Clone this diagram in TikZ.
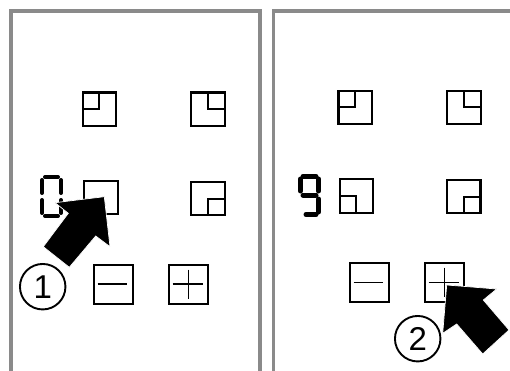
\documentclass[tikz,border=0pt]{standalone}
\usepackage{fontspec}
\setmainfont{Liberation Sans}
\usepackage{tikz}
\usetikzlibrary{calc,positioning}
\definecolor{FrameGray}{HTML}{8A8A8A}
\newcommand{\segdigit}[3]{%
  \begin{scope}[shift={#1}]
    \foreach \xa/\ya/\xb/\yb in {#3}
      \draw[seg,line width=#2] (\xa,\ya) -- (\xb,\yb);
  \end{scope}}
\begin{document}
\begin{tikzpicture}[
  x=1pt,y=-1pt,
  frameline/.style={draw=FrameGray, line width=3.6pt},
  iconbox/.style={draw, line width=2.2pt, minimum size=33.5pt, inner sep=0pt},
  cornerbox/.style={draw, line width=2.2pt, minimum size=16.5pt, inner sep=0pt},
  keybox/.style={draw, line width=2.6pt, minimum size=39pt, inner sep=0pt},
  sym/.style={line width=1.9pt},
  seg/.style={line cap=round},
  stepnum/.style={draw, circle, line width=1.9pt, minimum size=45.5pt, inner sep=0pt, font=\fontsize{33}{33}\selectfont},
  pointer/.style={fill=black, draw=white, line width=0.7pt}]
  \useasboundingbox (0,0) rectangle (510,371);

  % panels
  \draw[frameline] (11.2,371)--(11.2,11)--(260.2,11)--(260.2,371);
  \draw[frameline] (273.5,371)--(273.5,11)--(510,11);

  % left panel
  \node[iconbox] (L1) at (99.5,109.3) {};
  \node[iconbox] (L2) at (208,109.3) {};
  \node[iconbox] (L3) at (101,197.5) {};
  \node[iconbox] (L4) at (208,198.5) {};
  \node[cornerbox,anchor=north west] (L1c) at (L1.north west) {};
  \node[cornerbox,anchor=north east] (L2c) at (L2.north east) {};
  \node[cornerbox,anchor=south east] (L4c) at (L4.south east) {};
  \node[keybox] (Lm) at (113.5,284.3) {};
  \node[keybox] (Lp) at (188.5,284.3) {};
  \draw[sym] ([xshift=5pt]Lm.west) -- ([xshift=-7pt]Lm.east);
  \draw[sym] ([xshift=5pt]Lp.west) -- ([xshift=-6pt]Lp.east);
  \draw[sym] ([yshift=-6pt]Lp.north) -- ([yshift=6pt]Lp.south);
  \segdigit{(40,175)}{4pt}{5/2/18/2,2/5/2/18,21/5/21/18,2/25/2/38,21/25/21/38,5/41/18/41}
  \node[stepnum] (n1) at (42.7,286.7) {1};
  \fill[pointer] (104.3,196.7)--(55,202.7)--(68.3,213.3)--(43.3,246.7)--(69.3,267.3)--(95.7,236)--(110,246.7)--cycle;

  % right panel
  \node[iconbox] (R1) at (355.3,107.5) {};
  \node[iconbox] (R2) at (464,107.5) {};
  \node[iconbox] (R3) at (356.5,196) {};
  \node[iconbox] (R4) at (463.7,196.5) {};
  \node[cornerbox,anchor=north west] (R1c) at (R1.north west) {};
  \node[cornerbox,anchor=north east] (R2c) at (R2.north east) {};
  \node[cornerbox,anchor=south west] (R3c) at (R3.south west) {};
  \node[cornerbox,anchor=south east] (R4c) at (R4.south east) {};
  \node[keybox] (Rm) at (369.3,282.5) {};
  \node[keybox] (Rp) at (444.5,282.5) {};
  \draw[sym] ([xshift=5pt]Rm.west) -- ([xshift=-7pt]Rm.east);
  \draw[sym] ([xshift=5pt]Rp.west) -- ([xshift=-6pt]Rp.east);
  \draw[sym] ([yshift=-6pt]Rp.north) -- ([yshift=6pt]Rp.south);
  \segdigit{(298,174)}{5pt}{5/2.5/18/2.5,2.5/5/2.5/17,20.5/5/20.5/17,5/21/18/21,20.5/25/20.5/38,8/40.5/18/40.5}
  \node[stepnum] (n2) at (417.7,338.7) {2};
  \fill[pointer] (446.7,285)--(496.7,289)--(483.3,300)--(509,330)--(482.7,354)--(456.7,324)--(442.7,333.3)--cycle;
\end{tikzpicture}
\end{document}
